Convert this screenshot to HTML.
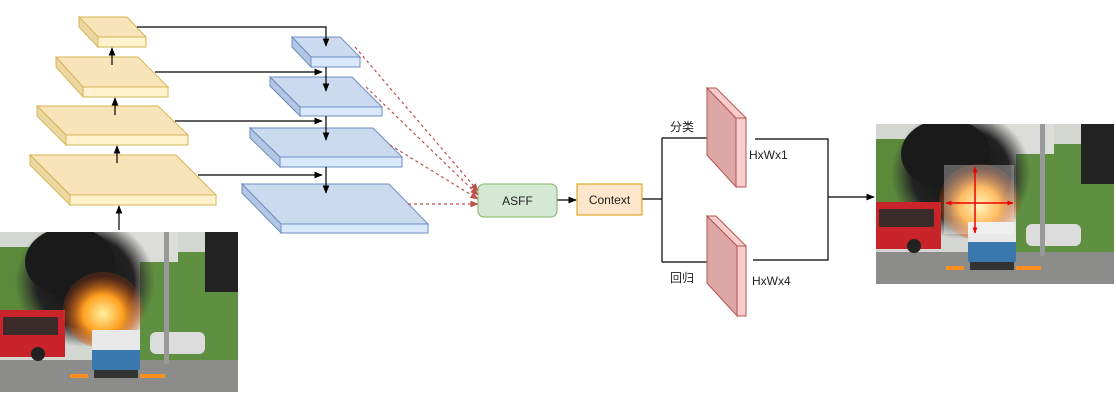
<!DOCTYPE html>
<html><head><meta charset="utf-8"><style>
html,body{margin:0;padding:0;background:#fff;}
svg{display:block;}
text{font-family:"Liberation Sans","Noto Sans CJK SC",sans-serif;font-size:12px;fill:#222;}
</style></head><body>
<svg width="1116" height="405" viewBox="0 0 1116 405" xmlns="http://www.w3.org/2000/svg">
<defs>
<marker id="ab" viewBox="0 0 10 10" refX="9" refY="5" markerWidth="7" markerHeight="7" orient="auto"><path d="M0,1 L10,5 L0,9 z" fill="#000"/></marker>
<marker id="ar" viewBox="0 0 10 10" refX="9" refY="5" markerWidth="7" markerHeight="7" orient="auto"><path d="M0,1 L10,5 L0,9 z" fill="#c0504d"/></marker>
<marker id="arr" viewBox="0 0 10 10" refX="9" refY="5" markerWidth="4" markerHeight="4" orient="auto-start-reverse"><path d="M0,1 L10,5 L0,9 z" fill="#e00"/></marker>
<radialGradient id="fire" cx="50%" cy="55%" r="50%"><stop offset="0" stop-color="#fff2a0"/><stop offset="0.5" stop-color="#ffa020"/><stop offset="1" stop-color="#e05010" stop-opacity="0.2"/></radialGradient>
<radialGradient id="smoke" cx="50%" cy="50%" r="50%"><stop offset="0" stop-color="#111"/><stop offset="0.7" stop-color="#222"/><stop offset="1" stop-color="#333" stop-opacity="0"/></radialGradient>
<clipPath id="cl"><rect x="0" y="0" width="238" height="160"/></clipPath>
<g id="scene" clip-path="url(#cl)">
<rect x="0" y="0" width="238" height="160" fill="#d4d6d2"/>
<rect x="0" y="15" width="45" height="110" fill="#5a8a3a"/>
<rect x="140" y="20" width="98" height="110" fill="#5f8f40"/>
<rect x="118" y="0" width="60" height="30" fill="#dcdcd8"/>
<ellipse cx="85" cy="50" rx="70" ry="65" fill="url(#smoke)"/>
<ellipse cx="70" cy="30" rx="45" ry="35" fill="#1a1a1a"/>
<rect x="205" y="0" width="33" height="60" fill="#222"/>
<rect x="0" y="128" width="238" height="32" fill="#8c8c8a"/>
<rect x="0" y="78" width="65" height="47" fill="#c8242a"/>
<rect x="3" y="85" width="55" height="18" fill="#3a2a2a"/>
<circle cx="38" cy="122" r="7" fill="#222"/>
<rect x="150" y="100" width="55" height="22" rx="6" fill="#dcdcdc"/>
<rect x="164" y="0" width="5" height="132" fill="#999"/>
<ellipse cx="103" cy="78" rx="40" ry="38" fill="url(#fire)"/>
<rect x="92" y="98" width="48" height="20" fill="#e8e8e8"/>
<rect x="92" y="118" width="48" height="20" fill="#3a78b0"/>
<rect x="94" y="138" width="44" height="8" fill="#333"/>
<rect x="70" y="142" width="18" height="4" fill="#ff9020"/>
<rect x="140" y="142" width="25" height="4" fill="#ff9020"/>
</g>
</defs>

<use href="#scene" transform="translate(0,232)"/>
<use href="#scene" transform="translate(876,124)"/>
<rect x="944" y="165" width="70" height="69" fill="#fff" fill-opacity="0.3"/>
<line x1="975" y1="167" x2="975" y2="233" stroke="#e00" stroke-width="1.5" marker-end="url(#arr)" marker-start="url(#arr)"/>
<line x1="946" y1="203" x2="1013" y2="203" stroke="#e00" stroke-width="1.5" marker-end="url(#arr)" marker-start="url(#arr)"/>

<g stroke="#d6b656" stroke-width="1">
<polygon points="79,17 127,17 146,37 98,37" fill="#f8e4b8"/><rect x="98" y="37" width="48" height="10" fill="#fff2cc"/><polygon points="79,17 98,37 98,47 79,27" fill="#ecd7a3"/>
<polygon points="56,57 138,57 168,87 83,87" fill="#f8e4b8"/><rect x="83" y="87" width="85" height="10" fill="#fff2cc"/><polygon points="56,57 83,87 83,97 56,67" fill="#ecd7a3"/>
<polygon points="37,106 158,106 188,135 66,135" fill="#f8e4b8"/><rect x="66" y="135" width="122" height="10" fill="#fff2cc"/><polygon points="37,106 66,135 66,145 37,116" fill="#ecd7a3"/>
<polygon points="30,155 176,155 216,195 70,195" fill="#f8e4b8"/><rect x="70" y="195" width="146" height="10" fill="#fff2cc"/><polygon points="30,155 70,195 70,205 30,165" fill="#ecd7a3"/>
</g>
<g stroke="#6c8ebf" stroke-width="1">
<polygon points="292,37 340,37 360,57 311,57" fill="#ccdaf0"/><rect x="311" y="57" width="49" height="10" fill="#dae8fc"/><polygon points="292,37 311,57 311,67 292,47" fill="#b3c6e4"/>
<polygon points="270,77 352,77 382,107 300,107" fill="#ccdaf0"/><rect x="300" y="107" width="82" height="9" fill="#dae8fc"/><polygon points="270,77 300,107 300,116 270,86" fill="#b3c6e4"/>
<polygon points="250,128 373,128 402,157 280,157" fill="#ccdaf0"/><rect x="280" y="157" width="122" height="10" fill="#dae8fc"/><polygon points="250,128 280,157 280,167 250,138" fill="#b3c6e4"/>
<polygon points="242,184 389,184 428,224 281,224" fill="#ccdaf0"/><rect x="281" y="224" width="147" height="9" fill="#dae8fc"/><polygon points="242,184 281,224 281,233 242,193" fill="#b3c6e4"/>
</g>

<g stroke="#000" stroke-width="1.2" fill="none" marker-end="url(#ab)">
<polyline points="137,27 326,27 326,46"/>
<line x1="155" y1="72" x2="322" y2="72"/>
<line x1="175" y1="121" x2="322" y2="121"/>
<line x1="198" y1="175" x2="322" y2="175"/>
<line x1="326" y1="67" x2="326" y2="91"/>
<line x1="326" y1="116" x2="326" y2="140"/>
<line x1="326" y1="167" x2="326" y2="193"/>
<line x1="112" y1="65" x2="112" y2="48"/>
<line x1="115" y1="115" x2="115" y2="98"/>
<line x1="117" y1="163" x2="117" y2="146"/>
<line x1="119" y1="230" x2="119" y2="206"/>
<line x1="557" y1="200" x2="576" y2="200"/>
<line x1="662" y1="138" x2="725" y2="138"/>
<line x1="662" y1="262" x2="725" y2="262"/>
<line x1="828" y1="197" x2="874" y2="197"/>
</g>
<g stroke="#000" stroke-width="1.2" fill="none">
<polyline points="642,199 662,199"/>
<line x1="662" y1="138" x2="662" y2="262"/>
<polyline points="755,139 828,139 828,260 753,260"/>
</g>
<g stroke="#c0504d" stroke-width="1.2" stroke-dasharray="3,3" fill="none" marker-end="url(#ar)">
<line x1="355" y1="47" x2="478" y2="191"/>
<line x1="366" y1="87" x2="478" y2="195"/>
<line x1="390" y1="145" x2="478" y2="199"/>
<line x1="408" y1="204" x2="478" y2="204"/>
</g>

<rect x="478" y="184" width="79" height="33" rx="6" fill="#d5e8d4" stroke="#82b366"/>
<text x="517.5" y="205" text-anchor="middle">ASFF</text>
<rect x="577" y="184" width="65" height="31" fill="#ffe6cc" stroke="#d79b00"/>
<text x="609.5" y="204" text-anchor="middle">Context</text>

<g stroke="#b85450" stroke-width="1">
<polygon points="707,88 736,118 736,187 707,155" fill="#dca7a5"/>
<polygon points="707,88 716,88 746,118 736,118" fill="#f8cecc"/>
<rect x="736" y="118" width="10" height="69" fill="#f8cecc"/>
<polygon points="707,216 737,246 737,316 707,283" fill="#dca7a5"/>
<polygon points="707,216 716,216 746,246 737,246" fill="#f8cecc"/>
<rect x="737" y="246" width="9" height="70" fill="#f8cecc"/>
</g>
<text x="670" y="131">分类</text>
<text x="670" y="282">回归</text>
<text x="749" y="159">HxWx1</text>
<text x="752" y="285">HxWx4</text>
</svg>
</body></html>
